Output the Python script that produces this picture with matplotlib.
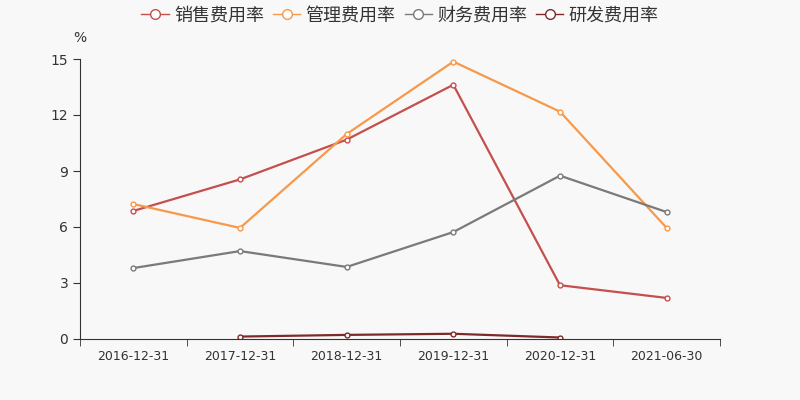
import numpy as np
import matplotlib.pyplot as plt
from matplotlib.lines import Line2D

plt.rcParams['font.family'] = ['DejaVu Sans']

dates = ['2016-12-31', '2017-12-31', '2018-12-31', '2019-12-31', '2020-12-31', '2021-06-30']
sales = [6.86, 8.55, 10.68, 13.62, 2.88, 2.2]
manage = [7.23, 5.95, 10.98, 14.86, 12.18, 5.95]
finance = [3.80, 4.71, 3.86, 5.73, 8.75, 6.8]
rnd = [np.nan, 0.13, 0.22, 0.28, 0.08, np.nan]

names = ['销售费用率', '管理费用率', '财务费用率', '研发费用率']
colors = ['#c44f4c', '#f7994a', '#7a7a7a', '#7e2a2a']

bg = '#f8f8f8'
fig = plt.figure(figsize=(8, 4), dpi=100, facecolor=bg)
ax = fig.add_axes([0.1, 0.1525, 0.8, 0.70], facecolor=bg)

x = np.arange(len(dates))
for vals, c in zip([sales, manage, finance, rnd], colors):
    ax.plot(x, vals, color=c, lw=1.6, marker='o', ms=3.5,
            mfc='white', mec=c, mew=1)

ax.set_xlim(-0.5, len(dates) - 0.5)
ax.set_ylim(0, 15)
ax.set_yticks([0, 3, 6, 9, 12, 15])
ax.set_xticks(x)
ax.set_xticklabels(dates)
ax.set_xticks(np.arange(-0.5, len(dates)), minor=True)
ax.tick_params(axis='x', which='major', length=0, pad=8, labelsize=9, colors='#333333')
ax.tick_params(axis='x', which='minor', length=5, color='#333333')
ax.tick_params(axis='y', length=5, labelsize=10, colors='#333333')
for s in ['top', 'right']:
    ax.spines[s].set_visible(False)
for s in ['left', 'bottom']:
    ax.spines[s].set_color('#333333')

fig.text(0.091, 0.895, '%', fontsize=10, color='#333333')

handles = [Line2D([0], [0], color=c, lw=1, marker='o', ms=7, mfc='white', mec=c)
           for c in colors]
fig.legend(handles, names, loc='upper center', bbox_to_anchor=(0.5, 1.025), ncol=4,
           frameon=False, fontsize=13, handlelength=1.5, handletextpad=0.3,
           columnspacing=0.5, labelcolor='#333333',
           prop={'family': ['Noto Sans CJK SC', 'DejaVu Sans'], 'size': 13})

fig.savefig('out.png', dpi=100, facecolor=bg)
